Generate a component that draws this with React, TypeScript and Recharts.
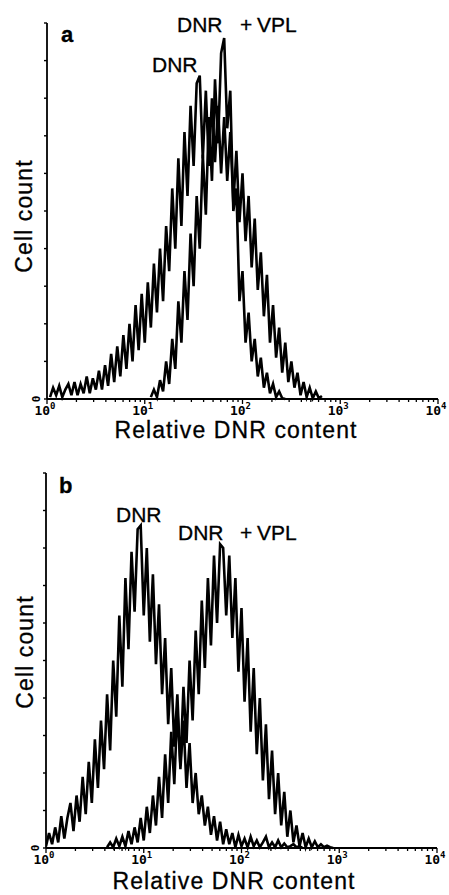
import { LineChart, Line, XAxis, YAxis } from 'recharts';

// log amplifier: 32 channels per decade, 4 decades (10^0 .. 10^4)
const CHANNELS_PER_DECADE = 32;
const decades = [0, 1, 2, 3, 4];
const minorSteps = [2, 3, 4, 5, 6, 7, 8, 9];
const yTicks = [0, 1, 2, 3, 4, 5, 6, 7, 8, 9, 10];

// panel a, counts per channel (first channel given by *Start)
const aDnrStart = 1;
const aDnr = [
  0.05, 0.3, 0.1, 0.35, 0.05, 0.25, 0.4, 0.1,
  0.45, 0.1, 0.4, 0.15, 0.6, 0.15, 0.55, 0.25,
  0.75, 0.25, 0.9, 0.35, 1.2, 0.45, 1.4, 0.6,
  1.7, 0.8, 2.0, 1.0, 2.5, 1.3, 2.8,
  1.5, 3.1, 1.9, 3.6, 2.3, 4.0, 2.6, 4.6,
  3.4, 5.6, 4.0, 6.4, 4.6, 7.1, 5.4, 7.8,
  6.2, 8.4, 8.6, 6.4, 8.2, 6.2, 8.0, 6.3,
  7.8, 6.0, 7.5, 5.8, 7.1, 5.2, 6.6, 4.7,
  6.0, 4.2, 5.4, 3.5, 4.8, 2.9, 3.9, 2.2,
  3.3, 1.5, 2.5, 1.1, 1.9, 0.7, 1.5, 0.45,
  1.0, 0.3, 0.7, 0.1, 0.45, 0.05, 0.3, 0.02, 0.2, 0.02, 0.08,
];
const aVplStart = 34;
const aVpl = [
  0.05, 0.25, 0.05, 0.5, 0.2, 1.0, 0.4, 1.6,
  0.8, 2.6, 1.5, 3.4, 2.1, 4.4, 3.0, 5.4,
  4.0, 6.5, 4.9, 7.5, 5.8, 8.5, 6.8, 9.2,
  9.6, 7.2, 8.2, 5.0, 5.6, 2.6, 3.4, 1.5,
  2.3, 1.0, 1.6, 0.6, 1.1, 0.3, 0.7, 0.15,
  0.4, 0.05, 0.2, 0.02, 0,
];

// panel b
const bDnrStart = 0;
const bDnr = [
  0.05, 0.4, 0.1, 0.55, 0.15, 0.85, 0.25, 0.8,
  1.2, 0.45, 1.4, 0.7, 1.9, 0.9, 2.3, 1.2,
  2.9, 1.6, 3.4, 2.1, 4.1, 2.6, 5.0, 3.5,
  6.2, 4.3, 7.2, 5.3, 7.9, 6.3, 8.5, 8.6,
  6.2, 8.0, 5.5, 7.3, 4.9, 6.5, 4.1, 5.6,
  3.3, 4.8, 2.7, 4.1, 2.1, 3.4, 1.6, 2.8,
  1.2, 2.0, 0.9, 1.4, 0.6, 1.1, 0.35, 0.85,
  0.2, 0.7, 0.1, 0.5, 0.1, 0.4, 0.02, 0.35,
  0.05, 0.25, 0.02, 0.3, 0.05, 0.2, 0.02, 0.15, 0.3, 0.02, 0.15,
  0.02, 0.2, 0.02, 0.12, 0.02, 0.05, 0.1, 0.02, 0.05, 0,
];
const bVplStart = 20;
const bVpl = [
  0.02, 0.15, 0.02, 0.25, 0.05, 0.3, 0.05, 0.45,
  0.1, 0.55, 0.15, 0.8, 0.2, 1.1, 0.4, 1.4,
  0.6, 1.9, 0.8, 2.5, 1.2, 3.1, 1.7, 3.7,
  2.2, 4.3, 2.8, 5.0, 3.4, 5.8, 4.1, 6.6,
  4.8, 7.2, 5.4, 7.8, 6.0, 8.1, 8.0, 6.2,
  7.8, 5.6, 7.2, 4.7, 6.4, 3.9, 5.6, 3.1,
  4.8, 2.5, 4.0, 1.8, 3.3, 1.3, 2.6, 0.9,
  2.0, 0.6, 1.5, 0.3, 1.0, 0.15, 0.6, 0.05,
  0.4, 0.02, 0.25, 0.02, 0.18, 0.02, 0.1, 0.02, 0.06, 0.02, 0,
];

const xTicks = [
  ...decades,
  ...decades.slice(0, 4).flatMap((d) => minorSteps.map((k) => d + Math.log10(k))),
].sort((p, q) => p - q);

function buildRows(dStart: number, d: number[], vStart: number, v: number[]) {
  const first = Math.min(dStart, vStart);
  const last = Math.max(dStart + d.length, vStart + v.length);
  const rows = [];
  for (let ch = first; ch < last; ch++) {
    const di = ch - dStart;
    const vi = ch - vStart;
    rows.push({
      x: ch / CHANNELS_PER_DECADE,
      dnr: di >= 0 && di < d.length ? d[di] : null,
      vpl: vi >= 0 && vi < v.length ? v[vi] : null,
    });
  }
  return rows;
}

const rowsA = buildRows(aDnrStart, aDnr, aVplStart, aVpl);
const rowsB = buildRows(bDnrStart, bDnr, bVplStart, bVpl);

const SANS = '"Liberation Sans", Arial, sans-serif';
const MONO = '"DejaVu Sans Mono", monospace';

const XTick = (props: any) => {
  const { x, y, payload } = props;
  const v = payload.value;
  const major = Number.isInteger(v);
  return (
    <g>
      <line x1={x} x2={x} y1={y} y2={y + (major ? 5 : 3)} stroke="#000" strokeWidth={1.3} />
      {major && (
        <text x={x - 2} y={y + 16} textAnchor="middle" fontFamily={MONO} fontWeight="bold" fontSize={13} fill="#000">
          10<tspan dy={-6} fontSize={9}>{v}</tspan>
        </text>
      )}
    </g>
  );
};

const YTick = (props: any) => {
  const { x, y, payload } = props;
  if (payload.value !== 0) return <g />;
  return (
    <text
      x={x - 6}
      y={y}
      transform={`rotate(-90, ${x - 6}, ${y})`}
      textAnchor="middle"
      dominantBaseline="central"
      fontFamily={MONO}
      fontWeight="bold"
      fontSize={11}
      fill="#000"
    >
      0
    </text>
  );
};

function Panel({ rows, height, margin, yWidth, xHeight }: any) {
  return (
    <LineChart width={449} height={height} data={rows} margin={margin}>
      <XAxis
        type="number"
        dataKey="x"
        domain={[0, 4]}
        ticks={xTicks}
        interval={0}
        tick={(p: any) => <XTick {...p} />}
        tickLine={false}
        tickSize={0}
        tickMargin={0}
        height={xHeight}
        axisLine={{ stroke: '#000', strokeWidth: 1.8 }}
        allowDataOverflow
      />
      <YAxis
        type="number"
        domain={[0, 10]}
        ticks={yTicks}
        interval={0}
        width={yWidth}
        tickSize={3}
        tickMargin={2}
        tickLine={{ stroke: '#000', strokeWidth: 1.4 }}
        axisLine={{ stroke: '#000', strokeWidth: 1.8 }}
        tick={(p: any) => <YTick {...p} />}
      />
      <Line type="linear" dataKey="dnr" stroke="#000" strokeWidth={2.6} dot={false} isAnimationActive={false} />
      <Line type="linear" dataKey="vpl" stroke="#000" strokeWidth={2.6} dot={false} isAnimationActive={false} />
    </LineChart>
  );
}

const labelProps = { fontFamily: SANS, fill: '#000', stroke: '#000', strokeWidth: 0.3 };

export default function App() {
  return (
    <div style={{ position: 'absolute', left: 0, top: 0, width: 449, height: 895, background: '#fff' }}>
      <div style={{ position: 'absolute', left: 0, top: 0 }}>
        <Panel rows={rowsA} height={448} margin={{ top: 23, right: 11, bottom: 0, left: 0 }} yWidth={47} xHeight={49} />
      </div>
      <div style={{ position: 'absolute', left: 0, top: 448 }}>
        <Panel rows={rowsB} height={447} margin={{ top: 25, right: 12, bottom: 0, left: 0 }} yWidth={46} xHeight={47} />
      </div>
      <svg width={449} height={895} style={{ position: 'absolute', left: 0, top: 0, pointerEvents: 'none' }}>
        <text x={61} y={42} fontSize={22} fontWeight="bold" {...labelProps}>a</text>
        <text x={152} y={72} fontSize={21} {...labelProps}>DNR</text>
        <text x={177} y={32} fontSize={21} {...labelProps}>DNR</text>
        <text x={240} y={32} fontSize={21} {...labelProps}>+</text>
        <text x={257} y={32} fontSize={21} {...labelProps}>VPL</text>
        <text x={236} y={438} fontSize={23} letterSpacing={1.1} textAnchor="middle" {...labelProps}>Relative DNR content</text>
        <text x={32} y={216} fontSize={23} letterSpacing={1.1} textAnchor="middle" transform="rotate(-90, 32, 216)" {...labelProps}>Cell count</text>

        <text x={59} y={493} fontSize={22} fontWeight="bold" {...labelProps}>b</text>
        <text x={116} y={522} fontSize={21} {...labelProps}>DNR</text>
        <text x={178} y={540} fontSize={21} {...labelProps}>DNR</text>
        <text x={240} y={540} fontSize={21} {...labelProps}>+</text>
        <text x={257} y={540} fontSize={21} {...labelProps}>VPL</text>
        <text x={234} y={889} fontSize={23} letterSpacing={1.1} textAnchor="middle" {...labelProps}>Relative DNR content</text>
        <text x={33} y={652} fontSize={23} letterSpacing={1.1} textAnchor="middle" transform="rotate(-90, 33, 652)" {...labelProps}>Cell count</text>
      </svg>
    </div>
  );
}
